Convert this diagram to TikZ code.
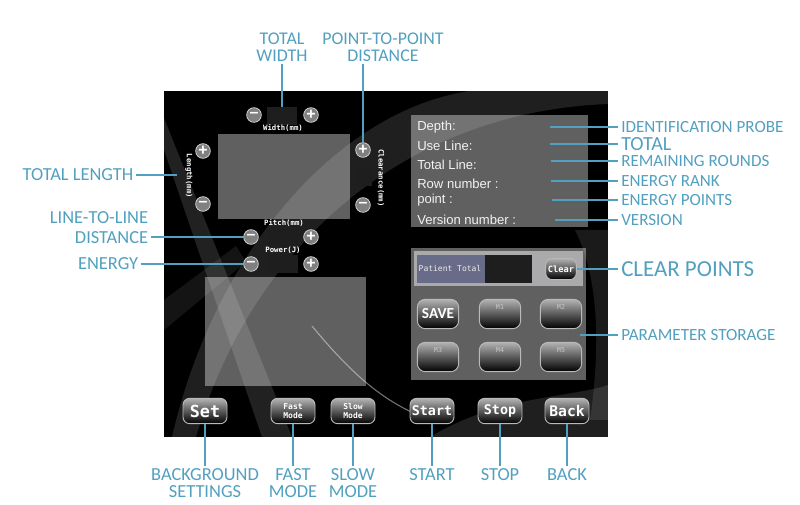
\documentclass[tikz,border=0pt]{standalone}
\usepackage{fontspec}
\setmainfont{Carlito}
\newfontfamily\lcdfont{DejaVu Sans Mono}
\newfontfamily\infofont{Liberation Sans}
\usetikzlibrary{positioning}
\definecolor{callout}{RGB}{82,160,192}
\definecolor{panelgray}{RGB}{96,96,96}
\definecolor{darkbox}{RGB}{30,30,30}
\definecolor{barblue}{RGB}{104,108,136}
\definecolor{barframe}{RGB}{170,170,172}
\definecolor{knob}{RGB}{128,128,128}

\begin{document}
\begin{tikzpicture}[x=0.75pt,y=-0.75pt,
    lbl/.style={text=callout,font=\fontsize{13.8}{12.5}\selectfont,inner sep=2pt,align=center},
    rlbl/.style={lbl,anchor=west,inner sep=0pt,font=\fontsize{12.8}{13}\selectfont},
    lead/.style={callout,line width=1.4pt},
    pm/.style={circle,minimum size=11pt,inner sep=0pt,fill=knob,draw=gray!35,line width=.6pt,
               text=white,font=\infofont\bfseries\fontsize{12}{12}\selectfont},
    field/.style={fill=darkbox,minimum width=22pt,minimum height=13pt,inner sep=0pt},
    tag/.style={text=white,font=\lcdfont\bfseries\fontsize{5.5}{6}\selectfont,inner sep=0pt},
    info/.style={anchor=west,text=gray!10,font=\infofont\fontsize{9.8}{10}\selectfont,inner sep=0pt},
    key/.style={draw=gray!55,line width=.7pt,rounded corners=5pt,top color=gray!60,bottom color=black,
                minimum width=33pt,minimum height=19pt,inner sep=0pt,text=white,
                font=\lcdfont\bfseries\fontsize{10}{10}\selectfont},
    mkey/.style={key,minimum width=31pt,minimum height=22pt,rounded corners=6pt},
    mtag/.style={font=\lcdfont\fontsize{5}{5}\selectfont,text=gray!45,yshift=-8pt,inner sep=0pt}]

  \useasboundingbox (0,0) rectangle (800,505);
  \fill[white] (0,0) rectangle (800,505);

  % screen
  \fill[black] (164,91) rectangle (608,437);
  \fill[panelgray] (218,134) rectangle (350,219);
  \fill[panelgray] (205,277) rectangle (366,386);
  \fill[panelgray] (411,115) rectangle (588,227);
  \fill[panelgray] (411,248) rectangle (586,380);
  \fill[barframe] (414,251) rectangle (583,286);
  \fill[barblue] (417,255) rectangle (485,283);
  \fill[darkbox] (485,255) rectangle (532,283);
  \begin{scope}
    \clip (164,91) rectangle (608,437);
    \fill[white,opacity=.13] (164,118) -- (164,150) -- (262,437) -- (292,437) -- cycle;
    \fill[white,opacity=.08] (164,300) -- (236,246) -- (246,262) -- (164,330) -- cycle;
    \fill[white,opacity=.12] (196,437) .. controls (250,250) and (400,112) .. (608,104)
      -- (608,91) -- (470,91) .. controls (340,110) and (215,250) .. (172,437) -- cycle;
    \draw[white,opacity=.45,line width=.8pt] (312,326) .. controls (350,372) and (385,405) .. (432,420);
    \fill[white,opacity=.12] (430,437) .. controls (500,395) and (570,398) .. (608,385) -- (608,437) -- cycle;
    \fill[white,opacity=.10] (575,230) .. controls (600,280) and (600,350) .. (590,420) -- (608,420) -- (608,230) -- cycle;
  \end{scope}

  % setting fields
  \node[field] (wbox) at (282,116) {};
  \node[pm] (wminus) at (254,115) {–};
  \node[pm] (wplus) at (311,115) {+};
  \node[tag] (wtag) at (283,128) {Width(mm)};

  \node[pm] (lplus) at (203,151) {+};
  \node[pm] (lminus) at (203,204) {–};
  \node[tag,rotate=-90] (ltag) at (189,176) {Length(mm)};

  \node[pm] (cplus) at (363,150) {+};
  \node[field,minimum width=13pt] (cbox) at (363,177) {};
  \node[pm] (cminus) at (363,205) {–};
  \node[tag,rotate=-90] (ctag) at (381,178) {Clearance(mm)};

  \node[tag] (ptag) at (284,223) {Pitch(mm)};
  \node[field] (pbox) at (283,238) {};
  \node[pm] (pminus) at (251,237) {–};
  \node[pm] (pplus) at (311,237) {+};

  \node[tag] (etag) at (283,250) {Power(J)};
  \node[field] (ebox) at (283,264) {};
  \node[pm] (eminus) at (251,264) {–};
  \node[pm] (eplus) at (311,264) {+};

  % info lines
  \node[info] (depth) at (417,127) {Depth:};
  \node[info] (useline) at (417,146) {Use Line:};
  \node[info] (totline) at (417,165) {Total Line:};
  \node[info] (rownum) at (417,184) {Row number :};
  \node[info] (point) at (417,200) {point :};
  \node[info] (vernum) at (417,220) {Version number :};

  % patient total and memory keys
  \node[tag,font=\lcdfont\fontsize{6}{6}\selectfont,text=gray!15] (ptotal) at (450,269) {Patient Total};
  \node[key,minimum width=23pt,minimum height=16pt,font=\lcdfont\bfseries\fontsize{6.5}{7}\selectfont] (clear) at (561,269) {Clear};
  \node[mkey,font=\bfseries\fontsize{11.5}{11.5}\selectfont] (save) at (438,314) {SAVE};
  \node[mkey,label={[mtag]north:M1}] (m1) at (500,314) {};
  \node[mkey,label={[mtag]north:M2}] (m2) at (561,314) {};
  \node[mkey,label={[mtag]north:M3}] (m3) at (438,357) {};
  \node[mkey,label={[mtag]north:M4}] (m4) at (500,357) {};
  \node[mkey,label={[mtag]north:M5}] (m5) at (561,357) {};

  % bottom keys
  \node[key,font=\lcdfont\bfseries\fontsize{12.5}{13}\selectfont] (set) at (205,411) {Set};
  \node[key,align=center,font=\lcdfont\bfseries\fontsize{6}{6.5}\selectfont] (fast) at (293,411) {Fast\\Mode};
  \node[key,align=center,font=\lcdfont\bfseries\fontsize{6}{6.5}\selectfont] (slow) at (353,411) {Slow\\Mode};
  \node[key] (start) at (432,411) {Start};
  \node[key] (stop) at (500,411) {Stop};
  \node[key,font=\lcdfont\bfseries\fontsize{11}{11}\selectfont] (back) at (567,411) {Back};

  % callout labels
  \node[lbl,font=\fontsize{13.4}{12.5}\selectfont] (twidth) at (282,47) {TOTAL\\WIDTH};
  \node[lbl,font=\fontsize{13.4}{12.5}\selectfont] (ptp) at (383,47) {POINT-TO-POINT\\DISTANCE};
  \node[lbl] (tlength) at (78,175) {TOTAL LENGTH};
  \node[lbl,align=right,anchor=east,font=\fontsize{13.8}{15}\selectfont] (ltl) at (151,228) {LINE-TO-LINE\\DISTANCE};
  \node[lbl,anchor=east] (energy) at (141,264) {ENERGY};

  \node[rlbl] (idprobe) at (621,127) {IDENTIFICATION PROBE};
  \node[rlbl,font=\fontsize{15}{15}\selectfont] (total) at (621,144) {TOTAL};
  \node[rlbl] (rounds) at (621,161) {REMAINING ROUNDS};
  \node[rlbl] (rank) at (621,181) {ENERGY RANK};
  \node[rlbl] (epoints) at (621,200) {ENERGY POINTS};
  \node[rlbl] (version) at (621,220) {VERSION};
  \node[rlbl,font=\fontsize{17.2}{17}\selectfont] (clearpts) at (621,269) {CLEAR POINTS};
  \node[rlbl] (pstore) at (621,335) {PARAMETER STORAGE};

  \node[lbl,anchor=north] (bgset) at (205,466) {BACKGROUND\\SETTINGS};
  \node[lbl,anchor=north] (fastlbl) at (293,466) {FAST\\MODE};
  \node[lbl,anchor=north] (slowlbl) at (353,466) {SLOW\\MODE};
  \node[lbl,anchor=north] (startlbl) at (432,466) {START};
  \node[lbl,anchor=north] (stoplbl) at (500,466) {STOP};
  \node[lbl,anchor=north] (backlbl) at (567,466) {BACK};

  \coordinate (lenend) at (177,175);
  \coordinate (depthend) at (550,127);
  \coordinate (useend) at (550,144);
  \coordinate (totend) at (551,161);
  \coordinate (rowend) at (551,181);
  \coordinate (pointend) at (552,200);
  \coordinate (verend) at (555,220);
  \coordinate (storeend) at (580,335);

  \path[lead] (twidth) edge (wbox)
        (ptp.south -| cplus) edge (cplus)
        (tlength) edge (lenend)
        (ltl.east |- pminus) edge (pminus)
        (energy) edge (eminus)
        (depthend) edge ([xshift=-2pt]idprobe.west)
        (useend) edge ([xshift=-2pt]total.west)
        (totend) edge ([xshift=-2pt]rounds.west)
        (rowend) edge ([xshift=-2pt]rank.west)
        (pointend) edge ([xshift=-2pt]epoints.west)
        (verend) edge ([xshift=-2pt]version.west)
        (clear) edge ([xshift=-2pt]clearpts.west)
        (storeend) edge ([xshift=-2pt]pstore.west)
        (set) edge (bgset)
        (fast) edge (fastlbl)
        (slow) edge (slowlbl)
        (start) edge (startlbl)
        (stop) edge (stoplbl)
        (back) edge (backlbl);
\end{tikzpicture}
\end{document}
